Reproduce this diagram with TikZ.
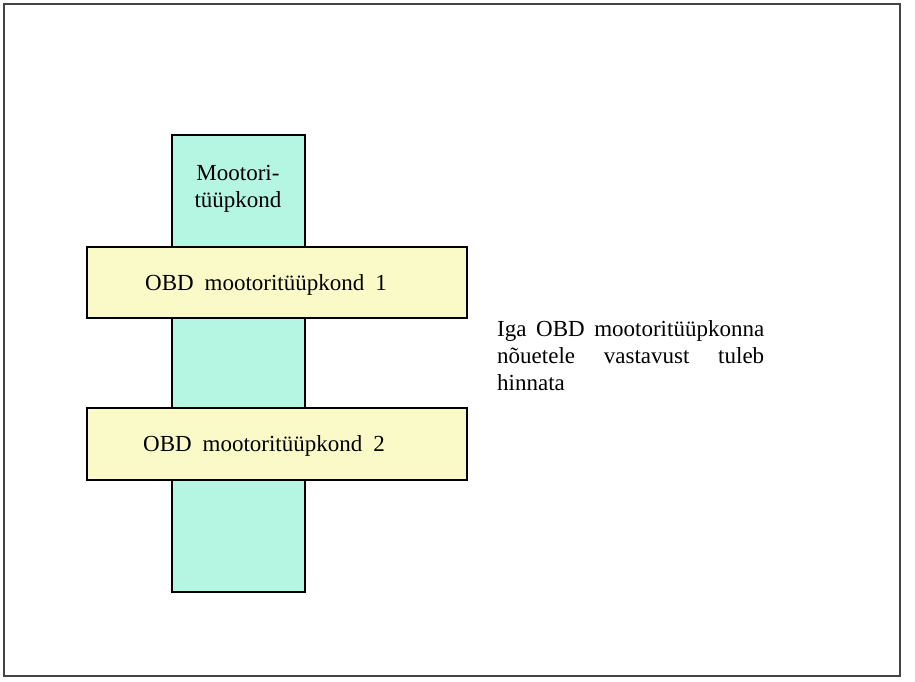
\documentclass[tikz,border=0pt]{standalone}
\usepackage{fontspec}
\setmainfont{Liberation Serif}
\newfontfamily\boxfont[WordSpace=1.9]{Liberation Serif}
\definecolor{colfill}{HTML}{B4F6E2}
\definecolor{boxfill}{HTML}{FAFAC8}
\definecolor{framegray}{HTML}{444444}
\hyphenpenalty=10000
\exhyphenpenalty=10000
\hbadness=10000
\begin{document}
\begin{tikzpicture}[x=1pt,y=-1pt,
  bar/.style={draw=black, line width=1.4pt, inner sep=0pt},
  lbl/.style={inner sep=0pt, font=\boxfont\fontsize{23}{27}\selectfont}]
\useasboundingbox (0,0) rectangle (915,681);
\node[draw=framegray, line width=2.4pt, inner sep=0pt, minimum width=896pt, minimum height=672pt] (frame) at (452,340) {};
\node[bar, fill=colfill, minimum width=133pt, minimum height=457pt] (col) at (238.5,363.5) {};
\node[inner sep=0pt, align=center, anchor=base, font=\fontsize{23}{27}\selectfont] (coltext) at (238,207) {Mootori-\\tüüpkond};
\node[bar, fill=boxfill, minimum width=380pt, minimum height=71pt] (box1) at (277,282.5) {};
\node[bar, fill=boxfill, minimum width=380pt, minimum height=72pt] (box2) at (277,444) {};
\node[lbl, anchor=base west] (t1) at (145,290) {OBD mootoritüüpkond 1};
\node[lbl, anchor=base west] (t2) at (143,451) {OBD mootoritüüpkond 2};
\node[inner sep=0pt, anchor=base west, text width=267pt, align=justify, font=\fontsize{23}{27}\selectfont] (note) at (497,336) {\hyphenpenalty=10000 \exhyphenpenalty=10000 Iga OBD mootoritüüpkonna nõuetele vastavust tuleb hinnata};
\end{tikzpicture}
\end{document}
